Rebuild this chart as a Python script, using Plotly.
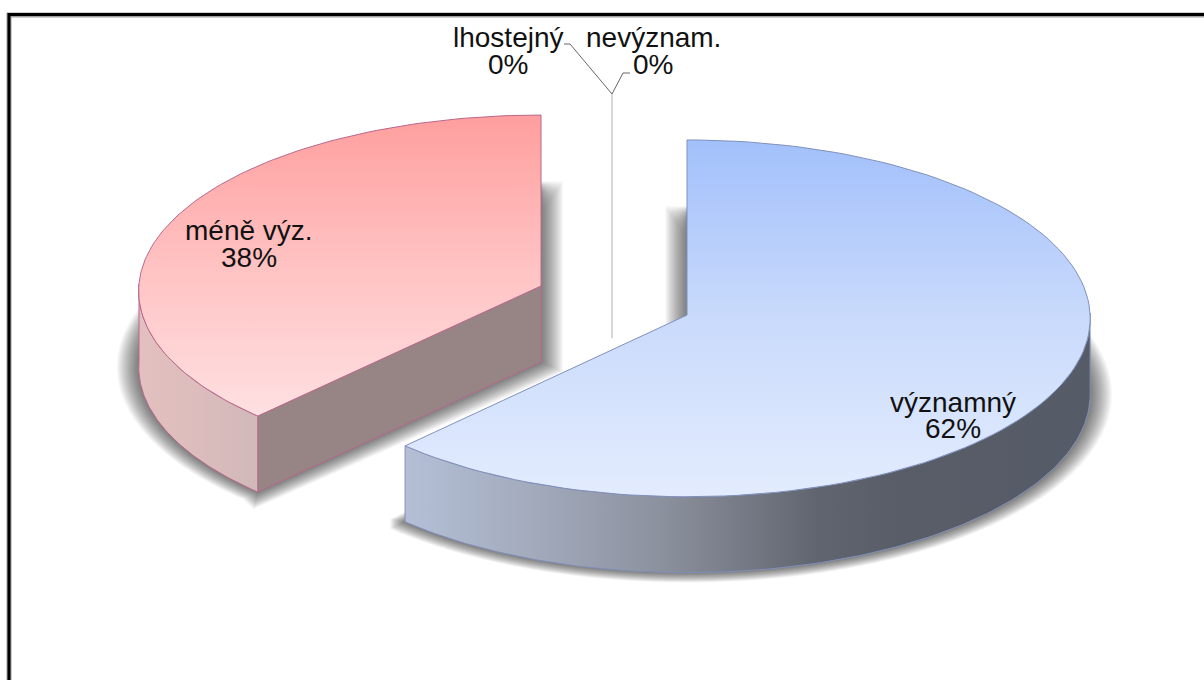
import math
import plotly.graph_objects as go

# ---- data ----
categories = ["významný", "méně výz.", "lhostejný", "nevýznam."]
shares = [62, 38, 0, 0]
percent_labels = ["62%", "38%", "0%", "0%"]

W, H = 1204, 680
DEPTH = 76


def rim(theta, e, dy=0, grow=0.0):
    # e: ellipse centre x, y, radii and mild perspective factor; grow widens the ellipse
    t = math.radians(theta)
    s = 1 - e["k"] * math.cos(t)
    return (e["cx"] + (e["rx"] * s + grow) * math.sin(t),
            e["cy"] - (e["ry"] * s + grow * 0.45) * math.cos(t) + dy)


def arc(a, b, e, dy=0, n=120, grow=0.0):
    pts = [rim(a + (b - a) * i / n, e, dy, grow) for i in range(n + 1)]
    return [p[0] for p in pts], [p[1] for p in pts]


total = sum(shares)
blue_end = 360 * shares[0] / total

blue_apex = (687, 315)
red_apex = (541, 286)
blue_e = dict(cx=687, cy=313, rx=403, ry=178.4, k=0.03)
red_e = dict(cx=541, cy=284, rx=402, ry=176, k=0.04)

fig = go.Figure()


def shadow_layer(x, y):
    fig.add_trace(go.Scatter(x=x, y=y, mode="none", hoverinfo="skip", showlegend=False,
                             fill="toself", fillcolor="rgba(0,0,0,0.027)"))


# soft shadows: stacked translucent copies of each slice's floor, widened step by step
for d in range(22, 0, -1):
    dy = d * 0.45
    soft = 22 - d  # the upper end of the flat side fades out more gently
    # red: the flat side faces right and down
    x, y = arc(blue_end, 360, red_e, DEPTH, grow=d)
    shadow_layer(x + [red_apex[0] + d, red_apex[0] + d, x[0] + d * 0.5],
                 y + [y[-1] + soft, red_apex[1] + DEPTH + dy, y[0] + dy])
    # blue: the flat side faces left
    x, y = arc(0, blue_end, blue_e, DEPTH, grow=d)
    shadow_layer(x + [x[-1], blue_apex[0] - d, blue_apex[0] - d],
                 y + [y[-1] - dy, blue_apex[1] + DEPTH - dy, y[0] + soft])

# zero-size slices: the hairline and their two leader lines
fig.add_trace(go.Scatter(x=[612, 612], y=[94, 338], mode="lines", hoverinfo="skip", showlegend=False,
                         line=dict(color="#d6d6e6", width=2)))
fig.add_trace(go.Scatter(x=[564, 570, 612, 623, 630], y=[44, 44, 94, 73, 73], mode="lines",
                         hoverinfo="skip", showlegend=False, line=dict(color="#666666", width=1)))


def poly(x, y, line, **kw):
    fig.add_trace(go.Scatter(x=x, y=y, mode="lines", hoverinfo="skip", showlegend=False,
                             fill="toself", line=dict(color=line, width=1), **kw))


# red slice
RED_LINE = "#b9688c"
tx, ty = rim(blue_end, red_e)
poly([red_apex[0], red_apex[0], tx, tx, red_apex[0]],
     [red_apex[1], red_apex[1] + DEPTH, ty + DEPTH, ty, red_apex[1]], RED_LINE, fillcolor="#978585")
ax, ay = arc(blue_end, 270, red_e)
bx, by = arc(270, blue_end, red_e, DEPTH)
poly(ax + bx + ax[:1], ay + by + ay[:1], RED_LINE,
     fillgradient=dict(type="horizontal", start=139, stop=256,
                       colorscale=[[0, "#e3c0c0"], [.5, "#dcbcbc"], [1, "#d1b9b9"]]))
ax, ay = arc(blue_end, 360, red_e)
poly([red_apex[0]] + ax + [red_apex[0]], [red_apex[1]] + ay + [red_apex[1]], RED_LINE,
     fillgradient=dict(type="vertical", start=115, stop=416,
                       colorscale=[[0, "#ff9e9e"], [.5, "#ffc2c2"], [1, "#ffe0e2"]]))

# blue slice
BLUE_LINE = "#8090bb"
ax, ay = arc(90, blue_end, blue_e)
bx, by = arc(blue_end, 90, blue_e, DEPTH)
poly(ax + bx + ax[:1], ay + by + ay[:1], BLUE_LINE,
     fillgradient=dict(type="horizontal", start=405, stop=1090,
                       colorscale=[[0, "#b4bfd6"], [.18, "#a3abbd"], [.38, "#8b909d"],
                                   [.6, "#61656f"], [.72, "#595d68"], [1, "#555b67"]]))
ax, ay = arc(0, blue_end, blue_e)
poly([blue_apex[0]] + ax + [blue_apex[0]], [blue_apex[1]] + ay + [blue_apex[1]], BLUE_LINE,
     fillgradient=dict(type="vertical", start=140, stop=495,
                       colorscale=[[0, "#a2c0fb"], [.5, "#c9dafb"], [1, "#e3ecfe"]]))

# frame
fig.add_trace(go.Scatter(x=[9, 9, W], y=[H, 15, 15], mode="lines", hoverinfo="skip", showlegend=False,
                         line=dict(color="#a0a0a0", width=5)))
fig.add_trace(go.Scatter(x=[9, 9, W], y=[H, 14.5, 14.5], mode="lines", hoverinfo="skip", showlegend=False,
                         line=dict(color="#000000", width=3)))

# labels
label_pos = {0: (953, 402, 428), 1: (249, 230, 257), 2: (508, 37, 64), 3: (653, 37, 64)}
ann = []
for i, name in enumerate(categories):
    px, y1, y2 = label_pos[i]
    for text, yy in ((name, y1), (percent_labels[i], y2)):
        ann.append(dict(x=px, y=yy, text=text, showarrow=False, xanchor="center", yanchor="middle",
                        font=dict(family="Liberation Sans", size=28, color="#111111")))

fig.update_layout(width=W, height=H, margin=dict(l=0, r=0, t=0, b=0),
                  paper_bgcolor="white", plot_bgcolor="white", annotations=ann, showlegend=False,
                  xaxis=dict(range=[0, W], visible=False, fixedrange=True),
                  yaxis=dict(range=[H, 0], visible=False, fixedrange=True))
fig.write_html("out.html", config={"displayModeBar": False},
               post_script="document.body.style.margin='0';document.body.style.overflow='hidden';")
